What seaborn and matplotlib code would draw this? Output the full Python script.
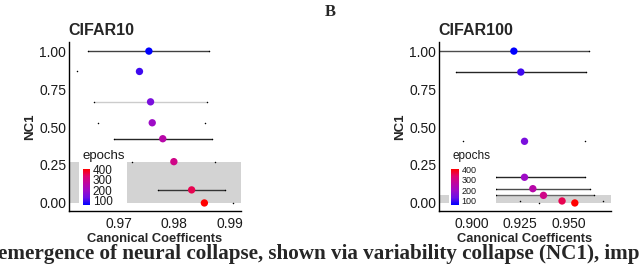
import numpy as np
import pandas as pd
import matplotlib
matplotlib.use('Agg')
import matplotlib.pyplot as plt
import seaborn as sns
from matplotlib.colors import LinearSegmentedColormap, Normalize
from matplotlib.colorbar import ColorbarBase

# data
epochs = [60, 100, 150, 200, 250, 300, 350, 400]

c10_coef = [0.9754, 0.9737, 0.9757, 0.9760, 0.9779, 0.9799, 0.9831, 0.9854]
c10_nc1 = [1.00, 0.866, 0.666, 0.528, 0.423, 0.272, 0.086, 0.0]
c10_lo = [0.9644, 0.9624, 0.9655, 0.9663, 0.9692, 0.9724, 0.9771, 0.9700]
c10_hi = [0.9862, 0.9935, 0.9859, 0.9856, 0.9868, 0.9874, 0.9891, 0.9906]
c10_band = [0.0, 0.272]

c100_coef = [0.9218, 0.9254, 0.9273, 0.9273, 0.9316, 0.9371, 0.9467, 0.9533]
c100_nc1 = [1.00, 0.862, 0.406, 0.169, 0.094, 0.050, 0.013, 0.0]
c100_lo = [0.8750, 0.8919, 0.8957, 0.9125, 0.9125, 0.9125, 0.9250, 0.9346]
c100_hi = [0.9606, 0.9593, 0.9588, 0.9588, 0.9613, 0.9632, 0.9680, 0.9760]
c100_band = [0.0, 0.050]

# styling only: how visible each interval line is in the source image
c10_line_alpha = [0.75, 0.0, 0.2, 0.0, 0.85, 0.0, 0.75, 0.0]
c100_line_alpha = [0.7, 0.85, 0.0, 0.85, 0.7, 0.5, 0.0, 0.0]

sns.set_theme(style="white")
plt.rcParams['font.family'] = ['Liberation Sans', 'DejaVu Sans']

cmap = LinearSegmentedColormap.from_list(
    "epochs", ["#0000FF", "#6A10E6", "#9C0CC8", "#BE06A0", "#DE0670", "#FF0000"])
norm = Normalize(min(epochs), max(epochs))


def draw_panel(fig, rect, title, coef, nc1, lo, hi, band, line_alpha,
               xlim, xticks, xticklabels, leg_rect, cb_rect, title_fs, cb_fs):
    df = pd.DataFrame({'coef': coef, 'nc1': nc1, 'lo': lo, 'hi': hi,
                       'epochs': epochs})
    ax = fig.add_axes(rect)
    ax.set_xlim(*xlim)
    ax.set_ylim(-0.053, 1.06)

    ax.fill_between(xlim, band[0], band[1], color='#d3d3d3', lw=0, zorder=0)
    for r, a in zip(df.itertuples(), line_alpha):
        ax.plot([r.lo, r.hi], [r.nc1, r.nc1], color='black', lw=1.0,
                alpha=a, solid_capstyle='butt', zorder=1)
    ax.scatter(df['lo'], df['nc1'], s=1.2, color='black', lw=0, zorder=1)
    ax.scatter(df['hi'], df['nc1'], s=1.2, color='black', lw=0, zorder=1)

    sns.scatterplot(data=df, x='coef', y='nc1', hue='epochs', palette=cmap,
                    hue_norm=norm, s=28, linewidth=0, legend=False, ax=ax,
                    zorder=3)

    ax.set_xticks(xticks)
    ax.set_xticklabels(xticklabels)
    ax.set_yticks([0, 0.25, 0.5, 0.75, 1.0])
    ax.set_yticklabels(['0.00', '0.25', '0.50', '0.75', '1.00'])
    ax.tick_params(axis='both', labelsize=10, colors='#333333', length=2.5,
                   width=0.6, pad=2, labelcolor='#1a1a1a')
    ax.tick_params(axis='y', length=0)
    for s in ['top', 'right']:
        ax.spines[s].set_visible(False)
    for s in ['left', 'bottom']:
        ax.spines[s].set_color('black')
        ax.spines[s].set_linewidth(1.0)
    ax.set_xlabel('Canonical Coefficents', fontsize=9.3, fontweight='bold',
                  labelpad=1)
    ax.set_ylabel('NC1', fontsize=9.5, fontweight='bold', labelpad=2)
    ax.set_title(title, loc='left', fontsize=11.5, fontweight='bold', pad=5,
                 x=-0.005)

    # legend box with colour bar
    lax = fig.add_axes(leg_rect)
    lax.set_facecolor('white')
    lax.set_xticks([])
    lax.set_yticks([])
    for s in lax.spines.values():
        s.set_visible(False)
    lax.text(0.07, 1.0, 'epochs', transform=lax.transAxes, fontsize=title_fs,
             ha='left', va='top', color='#1a1a1a')
    cax = fig.add_axes(cb_rect)
    cb = ColorbarBase(cax, cmap=cmap, norm=norm, orientation='vertical')
    cb.outline.set_visible(False)
    cb.set_ticks([100, 200, 300, 400])
    cax.tick_params(labelsize=cb_fs, length=0, pad=2, labelcolor='#1a1a1a')
    return ax


fig = plt.figure(figsize=(6.4, 2.65), dpi=100)
W, H = 640.0, 265.0

draw_panel(fig, [69 / W, 1 - 211 / H, 172 / W, 169 / H], 'CIFAR10',
           c10_coef, c10_nc1, c10_lo, c10_hi, c10_band, c10_line_alpha,
           (0.961, 0.992), [0.97, 0.98, 0.99], ['0.97', '0.98', '0.99'],
           [79 / W, 1 - 209 / H, 48 / W, 59 / H],
           [82.7 / W, 1 - 205 / H, 7.3 / W, 36 / H], 9.5, 8.5)

draw_panel(fig, [439 / W, 1 - 211 / H, 172 / W, 169 / H], 'CIFAR100',
           c100_coef, c100_nc1, c100_lo, c100_hi, c100_band, c100_line_alpha,
           (0.8831, 0.972), [0.900, 0.925, 0.950], ['0.900', '0.925', '0.950'],
           [449 / W, 1 - 209 / H, 47 / W, 59 / H],
           [451 / W, 1 - 205 / H, 8 / W, 36 / H], 8.5, 6.5)

fig.text(325 / W, 1 - 4 / H, 'B', fontsize=12, fontweight='bold',
         family='Liberation Serif', ha='left', va='top')
fig.text(-2 / W, 1 - 259 / H,
         'emergence of neural collapse, shown via variability collapse (NC1), improves',
         fontsize=15.2, fontweight='bold', family='Liberation Serif',
         ha='left', va='baseline')

fig.savefig('out.png', dpi=100)
plt.close(fig)
